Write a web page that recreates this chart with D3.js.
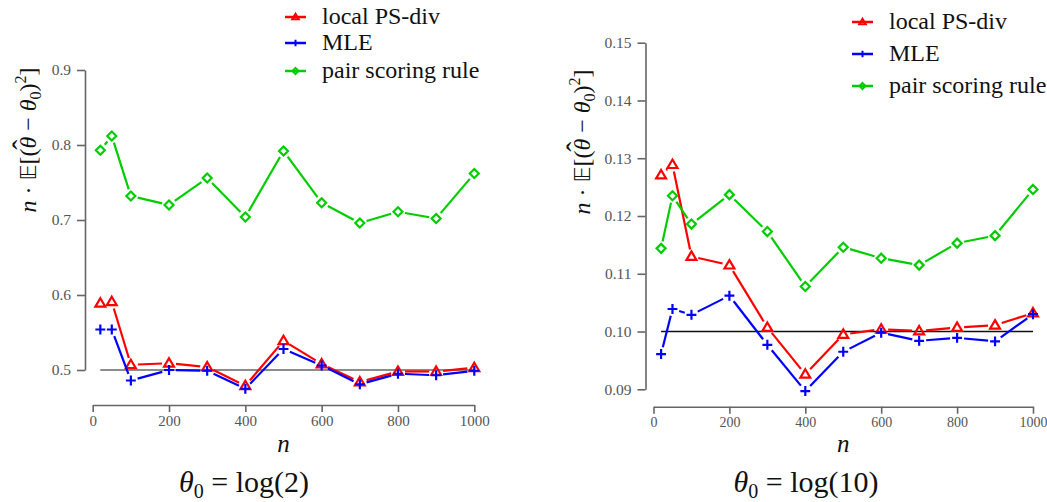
<!DOCTYPE html>
<html>
<head>
<meta charset="utf-8">
<script src="https://cdn.jsdelivr.net/npm/d3@7/dist/d3.min.js"></script>
<style>
  html, body { margin: 0; padding: 0; background: #fff; }
  svg { display: block; }
</style>
</head>
<body>
<svg id="chart" width="1047" height="502" font-family="Liberation Serif"></svg>
<script>
// ---------------- data ----------------
const nValues = [20, 50, 100, 200, 300, 400, 500, 600, 700, 800, 900, 1000];

// theta0 = log(2)
const psdivLog2 = [0.589, 0.591, 0.507, 0.509, 0.504, 0.479, 0.539, 0.508, 0.484, 0.498, 0.498, 0.503];
const mleLog2   = [0.554, 0.554, 0.486, 0.500, 0.499, 0.475, 0.528, 0.506, 0.481, 0.495, 0.493, 0.499];
const pairLog2  = [0.793, 0.812, 0.732, 0.720, 0.756, 0.704, 0.792, 0.723, 0.696, 0.711, 0.702, 0.762];

// theta0 = log(10)
const psdivLog10 = [0.1271, 0.1289, 0.1130, 0.1115, 0.1007, 0.0926, 0.0995, 0.1004, 0.1001, 0.1007, 0.1011, 0.1032];
const mleLog10   = [0.0961, 0.1039, 0.1029, 0.1062, 0.0977, 0.0897, 0.0965, 0.0998, 0.0984, 0.0989, 0.0983, 0.1030];
const pairLog10  = [0.1144, 0.1235, 0.1186, 0.1237, 0.1173, 0.1078, 0.1146, 0.1127, 0.1115, 0.1153, 0.1166, 0.1246];

const xTicks = [0, 200, 400, 600, 800, 1000];
const yTicksLog2 = [0.5, 0.6, 0.7, 0.8, 0.9];
const yTicksLog10 = [0.09, 0.10, 0.11, 0.12, 0.13, 0.14, 0.15];
const refLog2 = 0.5;
const refLog10 = 0.10;

const seriesNames = ["local PS-div", "MLE", "pair scoring rule"];
const seriesColors = ["#ff0000", "#0000ff", "#00cd00"];
const seriesShapes = ["triangle", "plus", "diamond"];

// ---------------- drawing ----------------
const SERIF = "Liberation Serif";
const svg = d3.select("#chart");

function markerPath(shape, s) {
  if (shape === "triangle") {
    const h = s * 0.9;
    return `M0,${-h * 0.62}L${s * 0.55},${h * 0.42}L${-s * 0.55},${h * 0.42}Z`;
  }
  if (shape === "plus") {
    return `M${-s * 0.55},0H${s * 0.55}M0,${-s * 0.55}V${s * 0.55}`;
  }
  const r = s * 0.5;
  return `M0,${-r}L${r},0L0,${r}L${-r},0Z`;
}

function drawPanel(cfg) {
  const g = svg.append("g");
  const x = d3.scaleLinear().domain([0, 1000]).range(cfg.xRange);
  const y = d3.scaleLinear().domain(cfg.yDomain).range(cfg.yRange);

  // y axis
  const yAxis = d3.axisLeft(y).tickValues(cfg.yTicks).tickFormat(d3.format(cfg.yFmt))
    .tickSizeOuter(0).tickSizeInner(8).tickPadding(6);
  const ya = g.append("g").attr("transform", `translate(${cfg.xRange[0] - cfg.yAxisGap},0)`).call(yAxis)
    .attr("font-family", SERIF).attr("font-size", 15.5);
  ya.select(".domain").attr("stroke", "#666").attr("stroke-width", 1.6);
  ya.selectAll(".tick line").attr("stroke", "#666").attr("stroke-width", 1.6);
  ya.selectAll(".tick text").attr("fill", "#555");

  // x axis
  const xAxis = d3.axisBottom(x).tickValues(xTicks).tickFormat(d3.format("d"))
    .tickSizeOuter(0).tickSizeInner(7).tickPadding(3);
  const xa = g.append("g").attr("transform", `translate(0,${cfg.xAxisY})`).call(xAxis)
    .attr("font-family", SERIF).attr("font-size", cfg.xTickSize);
  xa.select(".domain").attr("stroke", "#666").attr("stroke-width", 1.6);
  xa.selectAll(".tick line").attr("stroke", "#666").attr("stroke-width", 1.6);
  xa.selectAll(".tick text").attr("fill", "#555");

  // reference line
  g.append("line")
    .attr("x1", x(nValues[0])).attr("x2", x(nValues[nValues.length - 1]))
    .attr("y1", y(cfg.ref)).attr("y2", y(cfg.ref))
    .attr("stroke", cfg.refColor).attr("stroke-width", 1.4);

  // series (type = "b": segments with gaps around the points)
  const gap = 7;
  cfg.series.forEach((vals, si) => {
    const pts = vals.map((v, i) => [x(nValues[i]), y(v)]);
    const segs = [];
    for (let i = 0; i < pts.length - 1; i++) {
      const [x0, y0] = pts[i], [x1, y1] = pts[i + 1];
      const dx = x1 - x0, dy = y1 - y0, L = Math.hypot(dx, dy);
      if (L > 2 * gap + 1) {
        const ux = dx / L, uy = dy / L;
        segs.push([x0 + ux * gap, y0 + uy * gap, x1 - ux * gap, y1 - uy * gap]);
      }
    }
    g.append("g").selectAll("line").data(segs).join("line")
      .attr("x1", d => d[0]).attr("y1", d => d[1]).attr("x2", d => d[2]).attr("y2", d => d[3])
      .attr("stroke", seriesColors[si]).attr("stroke-width", 2.2);
    g.append("g").selectAll("path").data(pts).join("path")
      .attr("transform", d => `translate(${d[0]},${d[1]})`)
      .attr("d", markerPath(seriesShapes[si], 9))
      .attr("fill", "none").attr("stroke", seriesColors[si]).attr("stroke-width", 2.2);
  });

  // legend
  const lg = g.append("g");
  seriesNames.forEach((name, i) => {
    const yy = cfg.legendY[i];
    lg.append("line").attr("x1", cfg.legendX).attr("x2", cfg.legendX + 21)
      .attr("y1", yy).attr("y2", yy).attr("stroke", seriesColors[i]).attr("stroke-width", 2.5);
    lg.append("path").attr("transform", `translate(${cfg.legendX + 10.5},${yy})`)
      .attr("d", markerPath(seriesShapes[i], 6))
      .attr("fill", "none").attr("stroke", seriesColors[i]).attr("stroke-width", 2);
    lg.append("text").attr("x", cfg.legendX + 37).attr("y", yy + 7)
      .attr("font-family", SERIF).attr("font-size", 24).attr("fill", "#111").text(name);
  });

  // x label
  g.append("text").attr("x", (cfg.xRange[0] + cfg.xRange[1]) / 2).attr("y", 452)
    .attr("text-anchor", "middle").attr("font-family", SERIF).attr("font-size", 25)
    .attr("font-style", "italic").attr("fill", "#111").text("n");

  // y label
  const yl = g.append("text")
    .attr("transform", `translate(${cfg.yLabelX},${cfg.yLabelY}) rotate(-90)`)
    .attr("text-anchor", "middle").attr("font-family", SERIF).attr("font-size", 24).attr("fill", "#111");
  yl.append("tspan").attr("font-style", "italic").text("n");
  yl.append("tspan").text(" · ");
  yl.append("tspan").attr("font-family", "DejaVu Sans").attr("font-size", 22).text("𝔼");
  yl.append("tspan").text("[(");
  yl.append("tspan").attr("font-style", "italic").text("θ");
  yl.append("tspan").attr("font-size", 30).attr("dx", -13).attr("dy", -3).text("ˆ");
  yl.append("tspan").attr("dx", 3).attr("dy", 3).text(" − ");
  yl.append("tspan").attr("font-style", "italic").text("θ");
  yl.append("tspan").attr("font-size", 16).attr("dy", 5).text("0");
  yl.append("tspan").attr("dy", -5).text(")");
  yl.append("tspan").attr("font-size", 16).attr("dy", -10).text("2");
  yl.append("tspan").attr("dy", 10).text("]");

  // title
  const t = g.append("text").attr("x", cfg.titleX).attr("y", 492)
    .attr("text-anchor", "middle").attr("font-family", SERIF).attr("font-size", 30).attr("fill", "#111");
  t.append("tspan").attr("font-style", "italic").text("θ");
  t.append("tspan").attr("font-size", 20).attr("dy", 6).text("0");
  t.append("tspan").attr("dy", -6).text(" = log(" + cfg.titleArg + ")");
}

drawPanel({
  xRange: [92.7, 474.3], yDomain: [0.5, 0.9], yRange: [370, 70],
  yTicks: yTicksLog2, yFmt: ".1f", yAxisGap: 7.7, xAxisY: 405, xTickSize: 15,
  ref: refLog2, refColor: "#666",
  series: [psdivLog2, mleLog2, pairLog2],
  legendX: 285, legendY: [17, 43, 71],
  yLabelX: 36, yLabelY: 140,
  titleX: 244, titleArg: "2"
});

drawPanel({
  xRange: [653.5, 1033], yDomain: [0.09, 0.15], yRange: [389.3, 42.7],
  yTicks: yTicksLog10, yFmt: ".2f", yAxisGap: 8, xAxisY: 406.7, xTickSize: 14,
  ref: refLog10, refColor: "#111",
  series: [psdivLog10, mleLog10, pairLog10],
  legendX: 852, legendY: [22, 54, 86],
  yLabelX: 590, yLabelY: 142,
  titleX: 806, titleArg: "10"
});
</script>
</body>
</html>
